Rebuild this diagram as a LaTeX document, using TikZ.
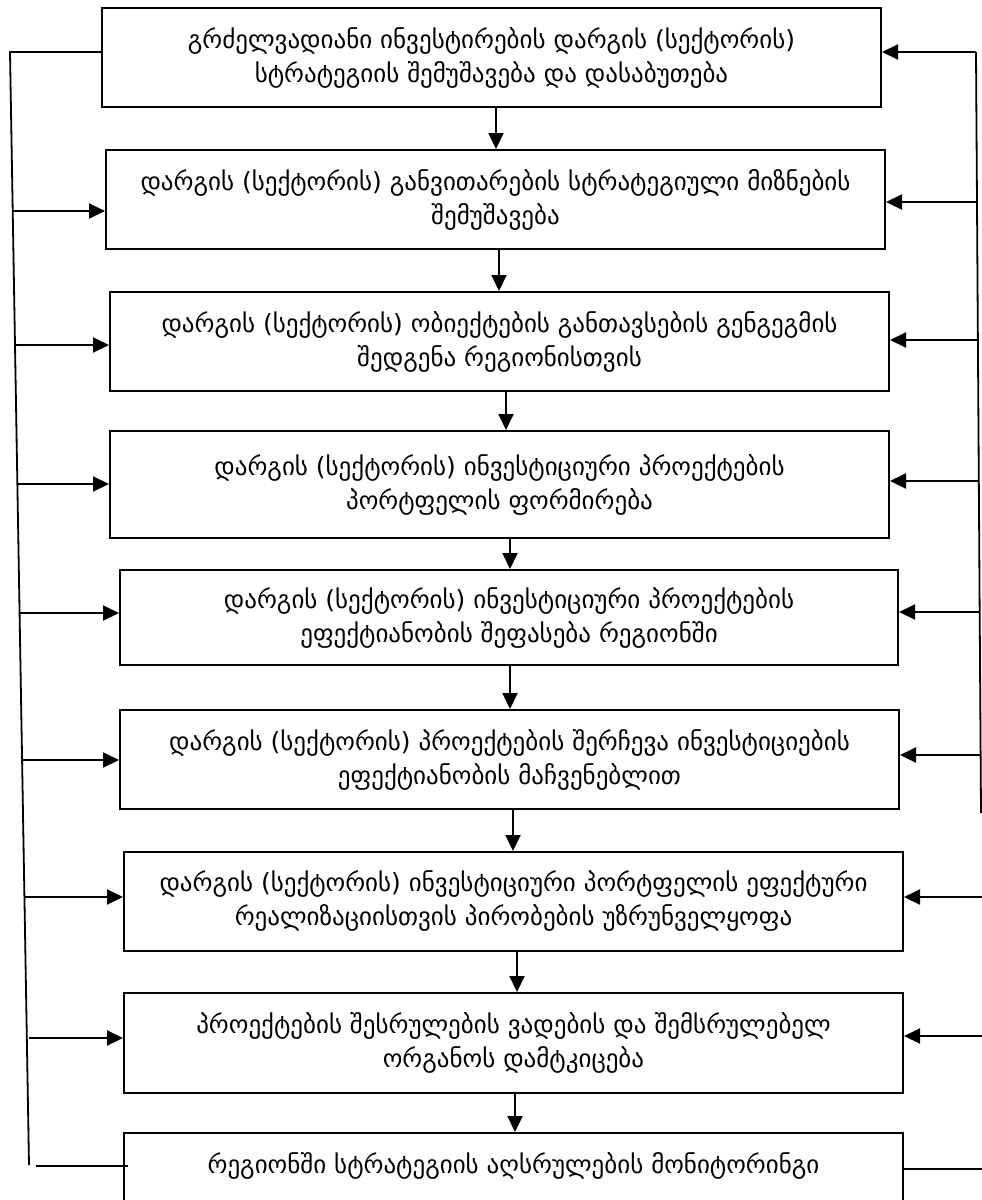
\documentclass[tikz,border=0pt]{standalone}
\usepackage{fontspec}
\newfontfamily\geo{DejaVu Sans}
\usetikzlibrary{arrows.meta}
\begin{document}
\begin{tikzpicture}[x=1pt,y=-1pt,
  box/.style={draw, line width=2pt, align=center, anchor=north west, inner sep=0pt,
    font=\geo\fontsize{25}{34}\selectfont},
  link/.style={line width=1.8pt},
  arr/.style={line width=2pt, -{Triangle[length=16pt,width=15pt]}}]
\useasboundingbox (0,0) rectangle (982,1200);
\clip (0,0) rectangle (982,1200);
% boxes
\node[box, minimum width=779pt, minimum height=99pt] (b1) at (101,7)
  {გრძელვადიანი ინვესტირების დარგის (სექტორის)\\სტრატეგიის შემუშავება და დასაბუთება};
\node[box, minimum width=779pt, minimum height=99pt] (b2) at (105,149)
  {დარგის (სექტორის) განვითარების სტრატეგიული მიზნების\\შემუშავება};
\node[box, minimum width=779pt, minimum height=99pt] (b3) at (109,291)
  {დარგის (სექტორის) ობიექტების განთავსების გენგეგმის\\შედგენა რეგიონისთვის};
\node[box, minimum width=779pt, minimum height=107pt] (b4) at (109,430)
  {დარგის (სექტორის) ინვესტიციური პროექტების\\პორტფელის ფორმირება};
\node[box, minimum width=778pt, minimum height=95pt] (b5) at (119,569)
  {დარგის (სექტორის) ინვესტიციური პროექტების\\ეფექტიანობის შეფასება რეგიონში};
\node[box, minimum width=779pt, minimum height=99pt] (b6) at (119,709)
  {დარგის (სექტორის) პროექტების შერჩევა ინვესტიციების\\ეფექტიანობის მაჩვენებლით};
\node[box, minimum width=779pt, minimum height=99pt] (b7) at (123,851)
  {დარგის (სექტორის) ინვესტიციური პორტფელის ეფექტური\\რეალიზაციისთვის პირობების უზრუნველყოფა};
\node[box, minimum width=779pt, minimum height=100pt] (b8) at (123,992)
  {პროექტების შესრულების ვადების და შემსრულებელ\\ორგანოს დამტკიცება};
\node[box, minimum width=779pt, minimum height=100pt, text height=40pt, text depth=60pt] (b9) at (123,1132)
  {რეგიონში სტრატეგიის აღსრულების მონიტორინგი};
% down arrows
\draw[arr] ([xshift=4.5pt]b1.south) -- ([xshift=4.5pt]b1.south |- b2.north);
\draw[arr] ([xshift=3.5pt]b2.south) -- ([xshift=3.5pt]b2.south |- b3.north);
\draw[arr] ([xshift=6.5pt]b3.south) -- ([xshift=6.5pt]b3.south |- b4.north);
\draw[arr] ([xshift=10.5pt]b4.south) -- ([xshift=10.5pt]b4.south |- b5.north);
\draw[arr] ([xshift=1pt]b5.south) -- ([xshift=1pt]b5.south |- b6.north);
\draw[arr] ([xshift=3.5pt]b6.south) -- ([xshift=3.5pt]b6.south |- b7.north);
\draw[arr] ([xshift=3.5pt]b7.south) -- ([xshift=3.5pt]b7.south |- b8.north);
\draw[arr] ([xshift=1.5pt]b8.south) -- ([xshift=1.5pt]b8.south |- b9.north);
% left feedback line
\coordinate (LT) at (10,52);
\coordinate (LB) at (29,1165);
\coordinate (L2) at (12.7,211);
\coordinate (L3) at (15,345);
\coordinate (L4) at (17.4,484);
\coordinate (L5) at (20,613);
\coordinate (L6) at (22,760);
\coordinate (L7) at (24,897);
\coordinate (L8) at (29,1038);
\coordinate (L9) at (36,1166);
\draw[link] (b1.west |- LT) -- (LT) -- (LB);
\draw[arr] (L2) -- (b2.west |- L2);
\draw[arr] (L3) -- (b3.west |- L3);
\draw[arr] (L4) -- (b4.west |- L4);
\draw[arr] (L5) -- (b5.west |- L5);
\draw[arr] (L6) -- (b6.west |- L6);
\draw[arr] (L7) -- (b7.west |- L7);
\draw[arr] (L8) -- (b8.west |- L8);
\draw[link] (L9) -- ([xshift=5pt]b9.west |- L9);
% right feedback line
\coordinate (RT) at (976,52);
\coordinate (RB) at (981,813);
\coordinate (R2) at (977,202);
\coordinate (R3) at (977.9,340);
\coordinate (R4) at (978.8,481);
\coordinate (R5) at (979.7,612);
\coordinate (R6) at (980.6,755);
\coordinate (R7) at (983,897);
\coordinate (R8) at (983,1036);
\coordinate (R9) at (983,1169);
\draw[link] (RT) -- (RB);
\draw[arr] (RT) -- (b1.east |- RT);
\draw[arr] (R2) -- (b2.east |- R2);
\draw[arr] (R3) -- (b3.east |- R3);
\draw[arr] (R4) -- (b4.east |- R4);
\draw[arr] (R5) -- (b5.east |- R5);
\draw[arr] (R6) -- (b6.east |- R6);
\draw[arr] (R7) -- (b7.east |- R7);
\draw[arr] (R8) -- (b8.east |- R8);
\draw[link] (b9.east |- R9) -- (R9);
\end{tikzpicture}
\end{document}
